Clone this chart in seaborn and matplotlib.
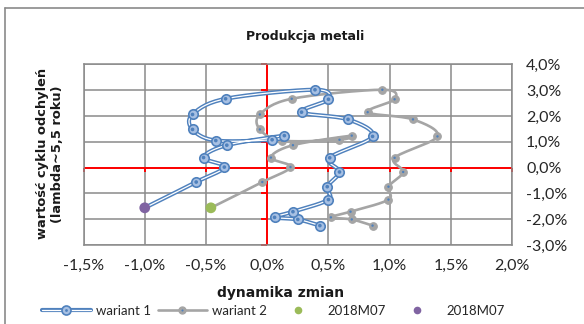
import numpy as np
import seaborn as sns
import matplotlib.pyplot as plt
import matplotlib.patheffects as pe
from matplotlib.lines import Line2D

sns.set_style("white")
plt.rcParams['font.family'] = ['Lato', 'DejaVu Sans']

# cycle values (y) shared by both variants, dynamics (x) per variant, in %
cykl = [-2.25, -2.01, -1.93, -1.71, -1.24, -0.74, -0.17, 0.38, 1.21, 1.87, 2.15, 2.65,
        3.02, 2.67, 2.06, 1.48, 1.05, 1.08, 1.24, 0.87, 0.39, 0.02, -0.56, -1.56]
wariant1 = [0.43, 0.25, 0.06, 0.21, 0.50, 0.49, 0.59, 0.51, 0.86, 0.66, 0.28, 0.50,
            0.39, -0.34, -0.61, -0.61, -0.42, 0.04, 0.14, -0.33, -0.52, -0.35, -0.58, -1.00]
wariant2 = [0.86, 0.69, 0.52, 0.68, 0.99, 0.99, 1.11, 1.04, 1.39, 1.19, 0.82, 1.04,
            0.94, 0.20, -0.06, -0.06, 0.12, 0.59, 0.69, 0.21, 0.03, 0.19, -0.04, -0.46]
x_ticks = [-1.5, -1.0, -0.5, 0.0, 0.5, 1.0, 1.5, 2.0]
y_ticks = [-3, -2, -1, 0, 1, 2, 3, 4]

BLUE = '#4f81bd'
GRAY = '#a5a5a5'
GREEN = '#9bbb59'
PURPLE = '#8064a2'
GRID = '#8a8a8a'
BOLD = ['DejaVu Sans']


def smooth(xs, ys, sx=122.6, sy=25.9, n=16):
    # catmull-rom through the points, done in (roughly) pixel space
    P = np.column_stack([np.array(xs) * sx, np.array(ys) * sy])
    P = np.vstack([P[0], P, P[-1]])
    out = []
    t = np.linspace(0, 1, n, endpoint=False)[:, None]
    for i in range(1, len(P) - 2):
        p0, p1, p2, p3 = P[i - 1], P[i], P[i + 1], P[i + 2]
        seg = 0.5 * (2 * p1 + (-p0 + p2) * t + (2 * p0 - 5 * p1 + 4 * p2 - p3) * t ** 2
                     + (-p0 + 3 * p1 - 3 * p2 + p3) * t ** 3)
        out.append(seg)
    out.append(P[-2][None])
    S = np.vstack(out)
    return S[:, 0] / sx, S[:, 1] / sy


fig = plt.figure(figsize=(5.84, 3.24), dpi=100)
ax = fig.add_axes([0.143, 0.244, 0.734, 0.557])

ax.set_xlim(-1.5, 2.0)
ax.set_ylim(-3, 4)
ax.set_xticks(x_ticks)
ax.set_yticks(y_ticks)
ax.grid(True, color=GRID, lw=1.1)
for s in ax.spines.values():
    s.set_color(GRID)
    s.set_linewidth(1.1)
ax.yaxis.tick_right()
ax.set_xticklabels([f"{v:.1f}%".replace('.', ',') for v in x_ticks])
ax.set_yticklabels([f"{v:.1f}%".replace('.', ',') for v in y_ticks], ha='left')
ax.tick_params(axis='x', length=0, pad=10, labelsize=11.5, colors='#262626')
ax.tick_params(axis='y', length=0, pad=10, labelsize=11.5, colors='#262626')

# red axes through zero with small tick marks
ax.axvline(0, color='red', lw=1.4, zorder=1.5)
ax.axhline(0, color='red', lw=1.4, zorder=1.5)
ax.plot([0] * len(y_ticks), y_ticks, ls='none', marker=0, ms=4, mew=1.4, mec='red',
        clip_on=False, zorder=1.5)
ax.plot(x_ticks, [0] * len(x_ticks), ls='none', marker=3, ms=3, mew=1.4, mec='red',
        clip_on=False, zorder=1.5)

# wariant 2 (gray)
gx, gy = smooth(wariant2, cykl)
sns.lineplot(x=gx, y=gy, sort=False, estimator=None, color=GRAY, lw=1.9, ax=ax, zorder=3)
sns.scatterplot(x=wariant2[:-1], y=cykl[:-1], s=30, color=GRAY, edgecolor=GRAY,
                linewidth=0.8, ax=ax, zorder=4)
sns.scatterplot(x=wariant2[:-1], y=cykl[:-1], s=3, color=BLUE, edgecolor='none',
                ax=ax, zorder=5)

# wariant 1 (blue double line)
bx, by = smooth(wariant1, cykl)
dbl = [pe.Stroke(linewidth=3.0, foreground=BLUE), pe.Normal()]
sns.lineplot(x=bx, y=by, sort=False, estimator=None, color='white', lw=0.9, ax=ax,
             zorder=6, path_effects=dbl)
sns.scatterplot(x=wariant1[:-1], y=cykl[:-1], s=46, color='#a7c0e3', edgecolor=BLUE,
                linewidth=1.2, ax=ax, zorder=7)
sns.scatterplot(x=wariant1[:-1], y=cykl[:-1], s=7, color=BLUE, edgecolor='none',
                ax=ax, zorder=8)

# last points 2018M07
sns.scatterplot(x=[wariant2[-1]], y=[cykl[-1]], s=60, color=GREEN, edgecolor='none',
                ax=ax, zorder=9)
sns.scatterplot(x=[wariant1[-1]], y=[cykl[-1]], s=60, color=PURPLE, edgecolor='none',
                ax=ax, zorder=9)
ax.set_xlabel('')
ax.set_ylabel('')

fig.text(0.522, 0.886, 'Produkcja metali', ha='center', va='center', fontsize=9,
         fontweight='bold', family=BOLD, color='#1a1a1a')
fig.text(0.48, 0.096, 'dynamika zmian', ha='center', va='center', fontsize=10,
         fontweight='bold', family=BOLD, color='#1a1a1a')
fig.text(0.086, 0.525, 'wartość cyklu odchyleń\n(lambda~5,5 roku)', ha='center',
         va='center', rotation=90, fontsize=9.4, fontweight='bold', family=BOLD,
         color='#1a1a1a', linespacing=1.25)

# chart border (left and top visible)
fig.add_artist(Line2D([5 / 584, 5 / 584], [0, 1 - 8 / 324], color=GRID, lw=1.2))
fig.add_artist(Line2D([5 / 584, 1], [1 - 8 / 324, 1 - 8 / 324], color=GRID, lw=1.2))

h1 = (Line2D([], [], color='white', lw=0.9, path_effects=dbl),
      Line2D([], [], ls='none', marker='o', ms=6.5, mfc='#a7c0e3', mec=BLUE, mew=1.2),
      Line2D([], [], ls='none', marker='o', ms=2, mfc=BLUE, mec='none'))
h2 = (Line2D([], [], color=GRAY, lw=1.9),
      Line2D([], [], ls='none', marker='o', ms=5, mfc=GRAY, mec=GRAY),
      Line2D([], [], ls='none', marker='o', ms=1.5, mfc=BLUE, mec='none'))
h3 = Line2D([], [], ls='none', marker='o', ms=5.5, mfc=GREEN, mec='none')
h4 = Line2D([], [], ls='none', marker='o', ms=5.5, mfc=PURPLE, mec='none')
fig.legend([h1, h2, h3, h4], ['wariant 1', 'wariant 2', '2018M07', '2018M07'],
           loc='center', bbox_to_anchor=(0.468, 0.04), ncol=4, frameon=False,
           fontsize=9.5, handlelength=3.7, handletextpad=0.4, columnspacing=0.5,
           borderpad=0, labelcolor='#262626')

fig.savefig('out.png', dpi=100)
